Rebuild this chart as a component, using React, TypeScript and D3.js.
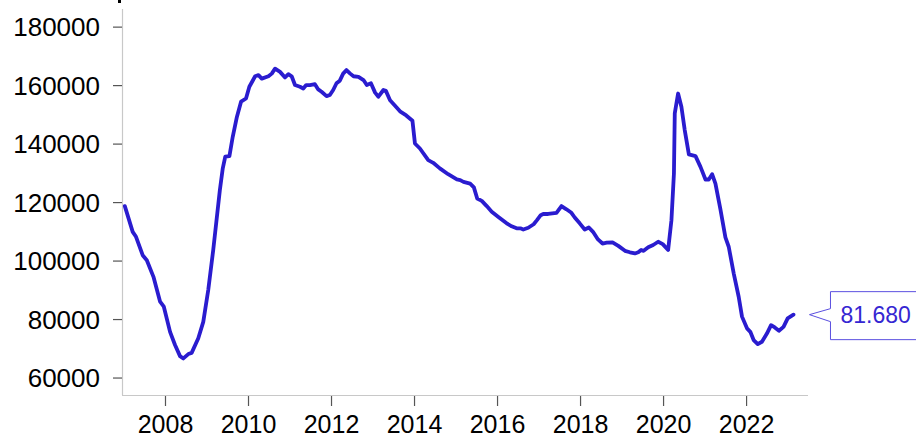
import React from "react";
import * as d3 from "d3";

const years: number[] = [
  2007.02, 2007.21, 2007.29, 2007.45, 2007.55, 2007.71, 2007.87, 2007.96,
  2008.11, 2008.23, 2008.35, 2008.43, 2008.55, 2008.63, 2008.79, 2008.91,
  2009.03, 2009.15, 2009.31, 2009.38, 2009.44, 2009.54, 2009.62, 2009.72,
  2009.82, 2009.94, 2010.02, 2010.16, 2010.24, 2010.32, 2010.48, 2010.56,
  2010.64, 2010.76, 2010.88, 2010.96, 2011.04, 2011.12, 2011.24, 2011.32,
  2011.39, 2011.48, 2011.6, 2011.68, 2011.76, 2011.88, 2011.96, 2012.04,
  2012.12, 2012.2, 2012.28, 2012.36, 2012.45, 2012.53, 2012.65, 2012.77,
  2012.85, 2012.95, 2013.05, 2013.13, 2013.25, 2013.31, 2013.41, 2013.52,
  2013.65, 2013.8, 2013.95, 2014.01, 2014.13, 2014.33, 2014.45, 2014.61,
  2014.81, 2015.02, 2015.1, 2015.18, 2015.34, 2015.43, 2015.51, 2015.62,
  2015.74, 2015.86, 2016.02, 2016.22, 2016.34, 2016.46, 2016.55, 2016.62,
  2016.74, 2016.87, 2016.95, 2017.04, 2017.1, 2017.22, 2017.42, 2017.54,
  2017.66, 2017.78, 2017.86, 2017.98, 2018.1, 2018.2, 2018.3, 2018.42,
  2018.53, 2018.63, 2018.77, 2018.91, 2019.07, 2019.19, 2019.31, 2019.39,
  2019.46, 2019.52, 2019.63, 2019.75, 2019.87, 2019.98, 2020.11, 2020.19,
  2020.25, 2020.27, 2020.35, 2020.43, 2020.51, 2020.61, 2020.77, 2020.89,
  2021.01, 2021.09, 2021.17, 2021.25, 2021.37, 2021.49, 2021.57, 2021.69,
  2021.81, 2021.89, 2022.01, 2022.09, 2022.17, 2022.27, 2022.37, 2022.49,
  2022.59, 2022.68, 2022.78, 2022.89, 2022.99, 2023.13,
];

const values: number[] = [
  118800, 110000, 108300, 102000, 100300, 94600, 86100, 84400,
  75800, 71300, 67500, 66700, 68200, 68600, 73600, 79200,
  90100, 103800, 124300, 131700, 135700, 135900, 142500, 149300,
  154500, 155600, 159600, 163200, 163600, 162400, 163200, 164100,
  165800, 164700, 162800, 163900, 163200, 160200, 159600, 159000,
  160200, 160200, 160500, 158700, 157900, 156400, 156800, 158500,
  160800, 161700, 164100, 165300, 164100, 163200, 163000, 161900,
  160200, 160800, 157600, 156200, 158500, 158200, 155000, 153300,
  151200, 149800, 148000, 140200, 138500, 134500, 133600, 131700,
  129700, 127900, 127700, 127100, 126500, 125200, 121400, 120600,
  118800, 116900, 115100, 112900, 111900, 111200, 111200, 110800,
  111400, 112600, 114000, 115700, 116100, 116100, 116500, 118800,
  117700, 116500, 114900, 112900, 110800, 111500, 110000, 107400,
  106000, 106300, 106400, 105200, 103500, 103000, 102600, 103000,
  103800, 103500, 104700, 105500, 106600, 105800, 103800, 114000,
  130000, 150500, 157300, 152800, 144800, 136500, 135900, 132200,
  127900, 127900, 129700, 126500, 117700, 108100, 104900, 95800,
  87800, 81000, 77000, 75800, 73000, 71600, 72400, 75200,
  78100, 77300, 76200, 77500, 80400, 81680,
];

const yTicks: number[] = [60000, 80000, 100000, 120000, 140000, 160000, 180000];
const xTicks: number[] = [2008, 2010, 2012, 2014, 2016, 2018, 2020, 2022];
const lastLabel = "81.680";

const W = 916;
const H = 438;
const LINE = "#2a1ccf";
const FONT = "'Liberation Sans', Arial, sans-serif";

export default function App() {
  const x = d3.scaleLinear().domain([2006.952, 2023.48]).range([122, 808]);
  const y = d3.scaleLinear().domain([54200, 186200]).range([395, 9]);

  const data = years.map((t, i) => [t, values[i]] as [number, number]);
  const line = d3
    .line<[number, number]>()
    .x((d) => x(d[0]))
    .y((d) => y(d[1]))
    .curve(d3.curveLinear);

  const last = data[data.length - 1];
  const tipX = x(last[0]) + 16;
  const tipY = y(last[1]);
  const boxL = tipX + 21;
  const calloutPath = [
    `M${tipX},${tipY}`,
    `L${boxL},${tipY - 6}`,
    `L${boxL},${tipY - 23}`,
    `L${W + 10},${tipY - 23}`,
    `L${W + 10},${tipY + 25}`,
    `L${boxL},${tipY + 25}`,
    `L${boxL},${tipY + 7}`,
    "Z",
  ].join(" ");

  return (
    <div style={{ position: "absolute", left: 0, top: 0, width: W, height: H }}>
      <svg width={W} height={H} style={{ display: "block", background: "#fff" }}>
        <rect x={118} y={0} width={3} height={3} fill="#000" />
        {/* y axis */}
        <line x1={122.5} x2={122.5} y1={y.range()[1]} y2={y.range()[0]} stroke="#c8c8c8" strokeWidth={1.2} />
        {yTicks.map((t) => (
          <g key={t}>
            <line x1={113} x2={122} y1={y(t)} y2={y(t)} stroke="#555" strokeWidth={1.2} />
            <text
              x={100}
              y={y(t)}
              dy="0.36em"
              textAnchor="end"
              fontFamily={FONT}
              fontSize={26}
              fill="#000"
            >
              {t}
            </text>
          </g>
        ))}
        {/* x axis */}
        <line x1={122} x2={808} y1={395.5} y2={395.5} stroke="#c8c8c8" strokeWidth={1.2} />
        {xTicks.map((t) => (
          <g key={t}>
            <line x1={x(t)} x2={x(t)} y1={396} y2={406} stroke="#555" strokeWidth={1.2} />
            <text
              x={x(t)}
              y={432.5}
              textAnchor="middle"
              fontFamily={FONT}
              fontSize={25}
              fill="#000"
            >
              {t}
            </text>
          </g>
        ))}
        <path
          d={line(data) || ""}
          fill="none"
          stroke={LINE}
          strokeWidth={3.8}
          strokeLinejoin="round"
          strokeLinecap="round"
        />
        <path d={calloutPath} fill="#fff" stroke="#5b50e0" strokeWidth={1} />
        <text
          x={boxL + 10}
          y={tipY}
          dy="0.36em"
          fontFamily={FONT}
          fontSize={23}
          fill="#3526d2"
        >
          {lastLabel}
        </text>
      </svg>
    </div>
  );
}
